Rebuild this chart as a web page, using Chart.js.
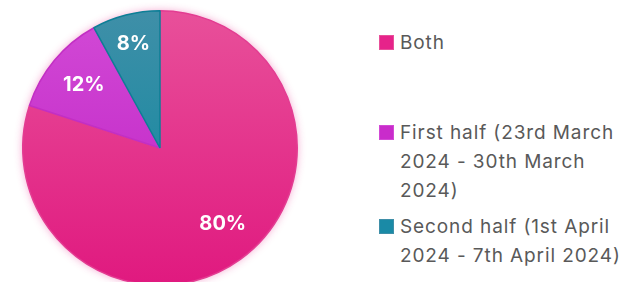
<!DOCTYPE html>
<html>
<head>
<meta charset="utf-8">
<script src="https://cdn.jsdelivr.net/npm/chart.js@4"></script>
<style>
  html, body { margin: 0; padding: 0; background: #fff; overflow: hidden; }
  #wrap { position: relative; width: 623px; height: 282px; }
  #pie-box { position: absolute; left: 0; top: 0; width: 320px; height: 296px; }
  #legend { position: absolute; left: 0; top: 0; font-family: Inter, "Open Sans", sans-serif; font-size: 19px; letter-spacing: 0.9px; color: #595959; }
  .item { position: absolute; left: 400px; width: 230px; line-height: 29px; white-space: nowrap; }
  .box { position: absolute; left: -21px; top: 7px; width: 13px; height: 13px; border: 1px solid; }
</style>
</head>
<body>
<div id="wrap">
  <div id="pie-box"><canvas id="pie-chart"></canvas></div>
  <div id="legend"></div>
</div>
<script>
// data
var labels = ['Both', 'First half (23rd March\n2024 - 30th March\n2024)', 'Second half (1st April\n2024 - 7th April 2024)'];
var values = [80, 12, 8];

// colours: [top, bottom] of each slice gradient, plus edge
var topColors = ['#e8509a', '#d24ad6', '#3f8fa8'];
var bottomColors = ['#e0197f', '#bd1ec2', '#06879e'];
var edgeColors = ['#e33d92', '#c22fc4', '#0d7f96'];
var legendColors = ['#e6238a', '#c92ccb', '#1a8aa6'];
var legendTop = [28, 118, 212];

function sliceGradient(ctx) {
  var chart = ctx.chart, area = chart.chartArea;
  if (!area) return bottomColors[ctx.dataIndex];
  var g = chart.ctx.createLinearGradient(0, area.top, 0, area.bottom);
  g.addColorStop(0, topColors[ctx.dataIndex]);
  g.addColorStop(1, bottomColors[ctx.dataIndex]);
  return g;
}

// soft pink glow behind the pie
var glowPlugin = {
  id: 'glow',
  beforeDatasetsDraw: function (chart) {
    var arc = chart.getDatasetMeta(0).data[0];
    if (!arc) return;
    var c = chart.ctx;
    c.save();
    c.shadowColor = 'rgba(230, 40, 140, 0.45)';
    c.shadowBlur = 9;
    c.fillStyle = '#e6228a';
    c.beginPath();
    c.arc(arc.x, arc.y, arc.outerRadius, 0, Math.PI * 2);
    c.fill();
    c.restore();
  }
};

// percentage labels inside the slices
var pctPlugin = {
  id: 'pct',
  afterDatasetsDraw: function (chart) {
    var c = chart.ctx;
    var total = values.reduce(function (a, b) { return a + b; }, 0);
    c.save();
    c.font = 'bold 20px Inter, "Open Sans", sans-serif';
    c.fillStyle = '#ffffff';
    c.textAlign = 'center';
    c.textBaseline = 'middle';
    chart.getDatasetMeta(0).data.forEach(function (arc, i) {
      var mid = (arc.startAngle + arc.endAngle) / 2;
      var r = arc.outerRadius * (values[i] < 10 ? 0.78 : 0.72);
      if (i === 0) mid -= 0.06;
      var x = arc.x + Math.cos(mid) * r;
      var y = arc.y + Math.sin(mid) * r;
      c.fillText(Math.round(values[i] / total * 100) + '%', x, y);
    });
    c.restore();
  }
};

var pieChart = new Chart(document.getElementById('pie-chart'), {
  type: 'pie',
  data: {
    labels: labels,
    datasets: [{
      data: values,
      backgroundColor: sliceGradient,
      borderColor: edgeColors,
      borderWidth: 1.5
    }]
  },
  options: {
    responsive: true,
    maintainAspectRatio: false,
    animation: false,
    layout: { padding: { left: 22, right: 22, top: 10, bottom: 10 } },
    plugins: {
      legend: { display: false },
      tooltip: { enabled: false }
    }
  },
  plugins: [glowPlugin, pctPlugin]
});

// html legend, so the long names can wrap
var legend = document.getElementById('legend');
labels.forEach(function (name, i) {
  var item = document.createElement('div');
  item.className = 'item';
  item.style.top = legendTop[i] + 'px';
  var box = document.createElement('span');
  box.className = 'box';
  box.style.background = legendColors[i];
  box.style.borderColor = topColors[i];
  item.appendChild(box);
  name.split('\n').forEach(function (line, j) {
    if (j) item.appendChild(document.createElement('br'));
    item.appendChild(document.createTextNode(line));
  });
  legend.appendChild(item);
});
</script>
</body>
</html>
